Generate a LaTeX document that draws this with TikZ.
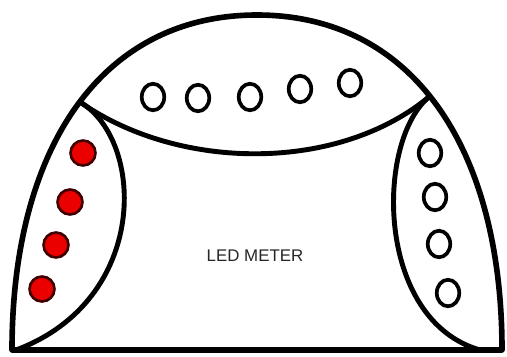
\documentclass[tikz,border=0pt]{standalone}
\usepackage{fontspec}
\setmainfont{Liberation Sans}
\usetikzlibrary{shapes.geometric}

\begin{document}
\begin{tikzpicture}
        [ x=0.02cm, y=-0.02cm
        , shell/.style={line width=3.2pt, line join=round}
        , seam/.style={line width=2.8pt}
        , ledoff/.style={ellipse, draw, line width=2.1pt, inner sep=0pt,
                         minimum width=0.45cm, minimum height=0.53cm}
        , ledon/.style={circle, draw=black!75!red, fill=red!92!black,
                        line width=1.5pt, inner sep=0pt, minimum size=0.5cm}
        ]
                \useasboundingbox (0,0) rectangle (507,356);
                \coordinate (bl) at (12,350);
                \coordinate (br) at (502,350);
                \coordinate (apex) at (257,15);
                \coordinate (jl) at (80,102);
                \coordinate (jr) at (430,96);
                \coordinate (lensl) at (16,350);
                \coordinate (lensr) at (480,350);

                \draw[shell] (bl) .. controls (12,150) and (100,15) .. (apex)
                                  .. controls (414,15) and (502,150) .. (br) -- cycle;
                \draw[seam] (jl) .. controls (180,172) and (340,172) .. (jr);
                \draw[seam] (jl) .. controls (145,140) and (150,300) .. (lensl);
                \draw[seam] (jr) .. controls (375,140) and (375,320) .. (lensr);

                \foreach \x/\y [count=\i] in {153/97, 198/98, 250/97, 300/89, 350/83}
                        \node[ledoff] (top\i) at (\x,\y) {};
                \foreach \x/\y [count=\i] in {83/153, 70/202, 56/245, 42/289}
                        \node[ledon] (red\i) at (\x,\y) {};
                \foreach \x/\y [count=\i] in {430/153, 435/197, 439/244, 448/293}
                        \node[ledoff] (right\i) at (\x,\y) {};

                \node[text=black!85, font=\fontsize{9.6}{11}\selectfont] (meter) at (255,256) {LED METER};
\end{tikzpicture}
\end{document}
